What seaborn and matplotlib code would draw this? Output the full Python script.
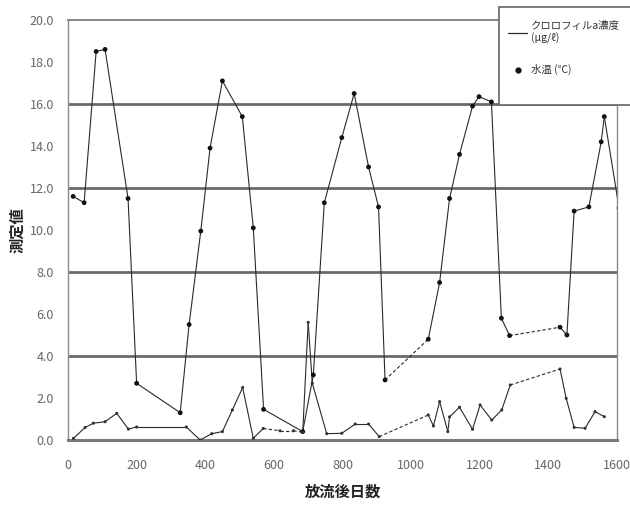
import numpy as np
import pandas as pd
import matplotlib
matplotlib.use("Agg")
import matplotlib.pyplot as plt
from matplotlib.patches import Rectangle
from matplotlib.lines import Line2D
import seaborn as sns

# --- data -------------------------------------------------------------
temp_days = [15, 47, 82, 108, 175, 200, 327, 353, 387, 414, 450, 508, 540, 570,
             684, 715, 747, 798, 834, 876, 905, 924, 1050, 1083, 1112, 1141,
             1179, 1198, 1234, 1263, 1287, 1434, 1454, 1475, 1518, 1554, 1563, 1606]
temp_vals = [11.6, 11.3, 18.5, 18.6, 11.5, 2.7, 1.3, 5.5, 9.95, 13.9, 17.1, 15.4,
             10.1, 1.46, 0.4, 3.1, 11.3, 14.4, 16.5, 13.0, 11.1, 2.86, 4.8, 7.5,
             11.5, 13.6, 15.9, 16.35, 16.1, 5.8, 4.97, 5.37, 5.0, 10.9, 11.1,
             14.2, 15.4, 11.05]
temp_gap_after = [924, 1287]          # no samples in between -> dashed link

chl_days = [16, 50, 74, 108, 142, 176, 200, 345, 385, 419, 450, 479, 509, 540,
            569, 618, 657, 684, 700, 712, 754, 798, 837, 876, 907, 1050, 1065,
            1083, 1107, 1112, 1141, 1179, 1201, 1235, 1264, 1289, 1434, 1452,
            1475, 1507, 1536, 1563]
chl_vals = [0.08, 0.6, 0.8, 0.87, 1.27, 0.52, 0.62, 0.62, 0.0, 0.3, 0.4, 1.43, 2.5,
            0.08, 0.55, 0.44, 0.44, 0.37, 5.6, 2.7, 0.3, 0.32, 0.76, 0.76, 0.16,
            1.19, 0.67, 1.83, 0.4, 1.1, 1.56, 0.51, 1.67, 0.95, 1.43, 2.62, 3.38,
            1.98, 0.6, 0.56, 1.35, 1.11]
chl_gap_after = [569, 618, 657, 907, 1289]

x_ticks = [0, 200, 400, 600, 800, 1000, 1200, 1400, 1600]
y_ticks = [0, 2, 4, 6, 8, 10, 12, 14, 16, 18, 20]
grid_levels = [4, 8, 12, 16]

label_chl = "クロロフィルa濃度\n(μg/ℓ)"
label_temp = "水温 (℃)"


def segments(days, vals, gaps):
    """Split a series into consecutive two-point links tagged solid / gap."""
    rows = []
    for i in range(len(days) - 1):
        kind = "gap" if days[i] in gaps else "obs"
        for j in (i, i + 1):
            rows.append({"day": days[j], "val": vals[j], "seg": i, "kind": kind})
    return pd.DataFrame(rows)


sns.set_theme(style="white")
plt.rcParams["font.family"] = ["Noto Sans CJK JP", "DejaVu Sans"]

fig = plt.figure(figsize=(6.3, 5.05), dpi=100)
ax = fig.add_axes([68 / 630, 1 - 440 / 505, 549 / 630, 420 / 505])

for lv in grid_levels:
    ax.axhline(lv, color="#6a6a6a", lw=2.0, zorder=1)

dash_map = {"obs": "", "gap": (3, 2)}

tdf = segments(temp_days, temp_vals, temp_gap_after)
sns.lineplot(data=tdf, x="day", y="val", units="seg", style="kind",
             dashes=dash_map, estimator=None, sort=False, color="#2a2a2a",
             lw=0.8, legend=False, ax=ax, zorder=3)
sns.scatterplot(x=temp_days, y=temp_vals, color="#111111", s=12,
                edgecolor="none", ax=ax, zorder=4)

cdf = segments(chl_days, chl_vals, chl_gap_after)
sns.lineplot(data=cdf, x="day", y="val", units="seg", style="kind",
             dashes=dash_map, estimator=None, sort=False, color="#2a2a2a",
             lw=0.8, legend=False, ax=ax, zorder=3)
sns.scatterplot(x=chl_days, y=chl_vals, color="#333333", s=5,
                edgecolor="none", ax=ax, zorder=4)

ax.set_xlim(0, 1600)
ax.set_ylim(0, 20)
ax.set_xticks(x_ticks)
ax.set_xticklabels([str(t) for t in x_ticks])
ax.set_yticks(y_ticks)
ax.set_yticklabels([f"{t:.1f}" for t in y_ticks])
ax.tick_params(axis="both", direction="in", length=3, width=0.8,
               colors="#666666", labelsize=9)
ax.tick_params(axis="x", pad=14)
ax.tick_params(axis="y", pad=10)

for side, sp in ax.spines.items():
    sp.set_visible(True)
    sp.set_color("#8a8a8a")
    sp.set_linewidth(1.0)
ax.spines["bottom"].set_linewidth(2.2)
ax.spines["bottom"].set_color("#7a7a7a")
ax.spines["top"].set_linewidth(1.5)

ax.set_xlabel("放流後日数", fontsize=11, fontweight="bold", color="#222222",
              labelpad=8)
ax.set_ylabel("測定値", fontsize=11, fontweight="bold", color="#222222",
              labelpad=3)

# legend box in the upper right corner, overlapping the frame
box = Rectangle((499 / 630, 1 - 105 / 505), 0.3, 98 / 505,
                transform=fig.transFigure, facecolor="white",
                edgecolor="#666666", lw=1.2, zorder=10)
fig.patches.append(box)
handles = [Line2D([], [], color="#2a2a2a", lw=0.9),
           Line2D([], [], ls="none", marker="o", ms=3.5, color="#111111")]
fig.legend(handles, [label_chl, label_temp], loc="upper left",
           bbox_to_anchor=(499 / 630, 1 - 12 / 505), frameon=False,
           fontsize=7.5, handlelength=1.8, handletextpad=0.4,
           labelspacing=1.9, labelcolor="#333333").set_zorder(11)

fig.savefig("out.png", dpi=100)
